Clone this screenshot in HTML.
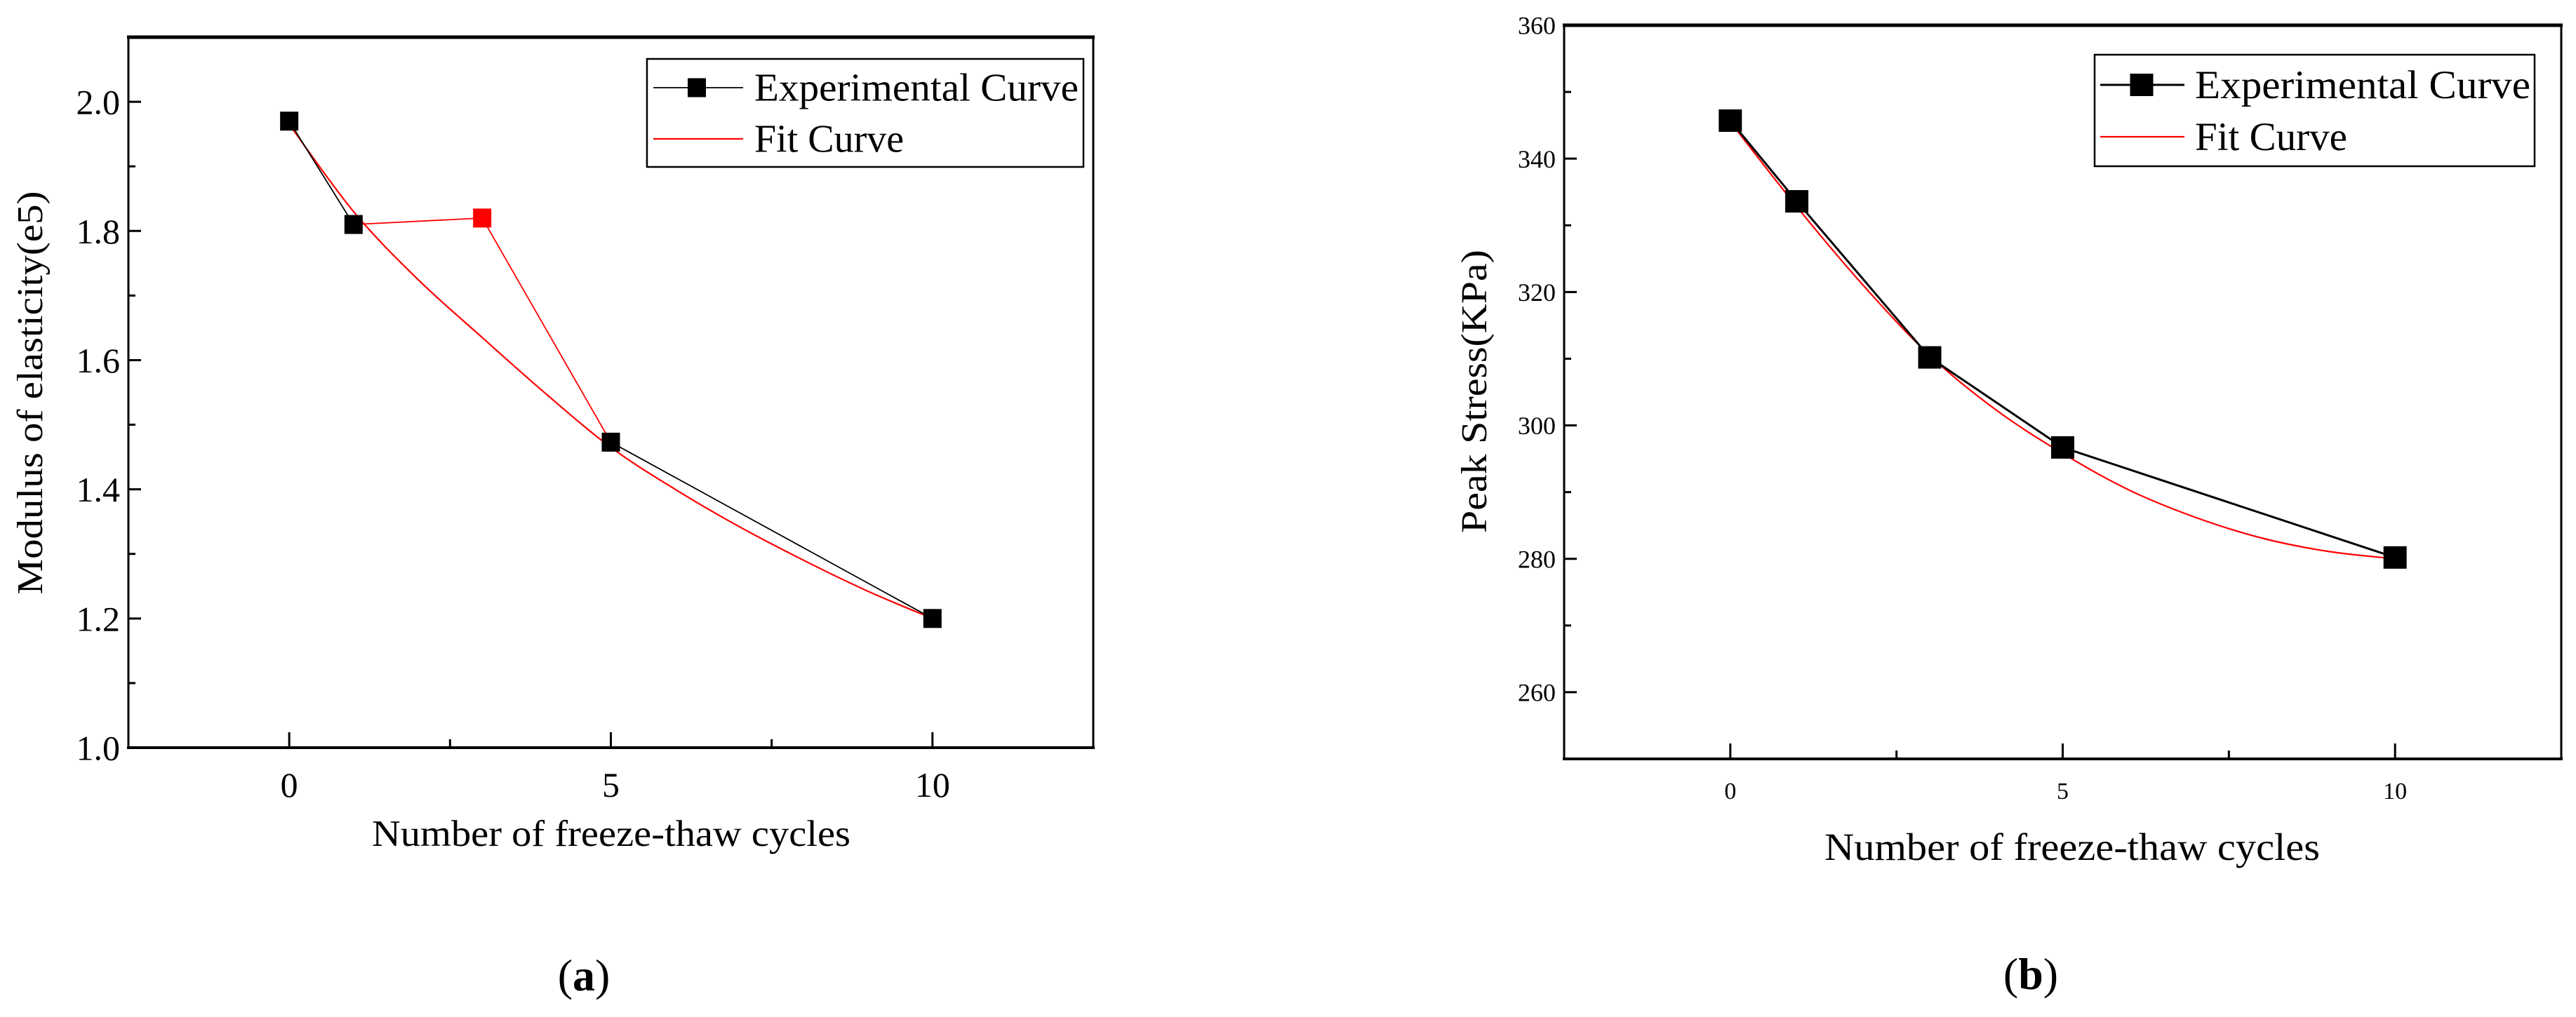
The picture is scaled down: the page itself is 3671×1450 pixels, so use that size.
<!DOCTYPE html>
<html><head><meta charset="utf-8"><style>
html,body{margin:0;padding:0;background:#fff;}
svg{display:block;font-family:"Liberation Serif",serif;}
</style></head><body>
<svg id="fig" width="3671" height="1450" viewBox="0 0 3671 1450" xmlns="http://www.w3.org/2000/svg"></svg>
<script>
// ---- Chart (a) data ----
const aExpX = [0, 1, 3, 5, 10];
const aExpY = [1.97, 1.81, 1.82, 1.473, 1.2];
const aExpColors = ['#000', '#000', '#f00', '#000', '#000'];
const aSegColors = ['#000', '#f00', '#f00', '#000'];
const aFitX = [0, 1, 2, 3, 4, 5, 6, 7, 8, 9, 10];
const aFitY = [1.965, 1.83, 1.725, 1.635, 1.547, 1.465, 1.40, 1.342, 1.29, 1.242, 1.2];
const aYTicks = [1.0, 1.2, 1.4, 1.6, 1.8, 2.0];
const aXTicks = [0, 5, 10];
// ---- Chart (b) data ----
const bExpX = [0, 1, 3, 5, 10];
const bExpY = [345.7, 333.6, 310.2, 296.7, 280.2];
const bFitX = [0, 1, 2, 3, 4, 5, 6, 7, 8, 9, 10];
const bFitY = [345.5, 332.8, 321, 310.5, 302.3, 295.8, 290.3, 286.2, 283.1, 281.1, 280];
const bYTicks = [260, 280, 300, 320, 340, 360];
const bXTicks = [0, 5, 10];

const NS = 'http://www.w3.org/2000/svg';
const svg = document.getElementById('fig');
function mk(tag, attrs, parent) {
  const e = document.createElementNS(NS, tag);
  for (const k in attrs) e.setAttribute(k, attrs[k]);
  (parent || svg).appendChild(e);
  return e;
}
function smoothPath(pts) {
  let d = 'M' + pts[0][0] + ',' + pts[0][1];
  for (let i = 0; i < pts.length - 1; i++) {
    const p0 = pts[Math.max(0, i - 1)], p1 = pts[i], p2 = pts[i + 1], p3 = pts[Math.min(pts.length - 1, i + 2)];
    const c1x = p1[0] + (p2[0] - p0[0]) / 6, c1y = p1[1] + (p2[1] - p0[1]) / 6;
    const c2x = p2[0] - (p3[0] - p1[0]) / 6, c2y = p2[1] - (p3[1] - p1[1]) / 6;
    d += ' C' + c1x + ',' + c1y + ' ' + c2x + ',' + c2y + ' ' + p2[0] + ',' + p2[1];
  }
  return d;
}

function chart(cfg) {
  const g = mk('g', {});
  
  
  const sx = v => cfg.L + (v - cfg.xmin) / (cfg.xmax - cfg.xmin) * (cfg.R - cfg.L);
  const sy = v => cfg.B - (v - cfg.ymin) / (cfg.ymax - cfg.ymin) * (cfg.B - cfg.T);
  const fr = mk('rect', {x: cfg.L, y: cfg.T, width: cfg.R - cfg.L, height: cfg.B - cfg.T, fill: 'none', stroke: '#000', 'stroke-width': 3}, g);
  
  
  mk('line', {x1: cfg.L - 2, x2: cfg.R + 2, y1: cfg.T, y2: cfg.T, stroke: '#000', 'stroke-width': 5}, g);
  mk('line', {x1: cfg.L - 2, x2: cfg.R + 2, y1: cfg.B, y2: cfg.B, stroke: '#000', 'stroke-width': 4}, g);
  cfg.yTicks.forEach((v, i) => {
    const y = sy(v);
    mk('line', {x1: cfg.L, x2: cfg.L + 18, y1: y, y2: y, stroke: '#000', 'stroke-width': 3}, g);
    if (i < cfg.yTicks.length - 1) {
      const ym = sy(v + (cfg.yTicks[1] - cfg.yTicks[0]) / 2);
      mk('line', {x1: cfg.L, x2: cfg.L + 10, y1: ym, y2: ym, stroke: '#000', 'stroke-width': 3}, g);
    }
    const t = mk('text', {x: cfg.L - 12, y: y + cfg.tickFs * 0.35, 'text-anchor': 'end', 'font-size': cfg.tickFs}, g);
    t.textContent = cfg.yFmt(v);
    
    
  });
  cfg.xTicks.forEach((v, i) => {
    const x = sx(v);
    mk('line', {x1: x, x2: x, y1: cfg.B, y2: cfg.B - 22, stroke: '#000', 'stroke-width': 3}, g);
    if (i < cfg.xTicks.length - 1) {
      const xm = sx(v + 2.5);
      mk('line', {x1: xm, x2: xm, y1: cfg.B, y2: cfg.B - 12, stroke: '#000', 'stroke-width': 3}, g);
    }
    const t = mk('text', {x: x, y: cfg.xLabY, 'text-anchor': 'middle', 'font-size': cfg.xTickFs}, g);
    t.textContent = String(v);
    
    
  });
  const fpts = cfg.fitX.map((x, i) => [sx(x), sy(cfg.fitY[i])]);
  const fl = mk('path', {d: smoothPath(fpts), fill: 'none', stroke: '#f00', 'stroke-width': 2.2}, g);
  
  
  for (let i = 0; i < cfg.expX.length - 1; i++) {
    const s = mk('line', {x1: sx(cfg.expX[i]), y1: sy(cfg.expY[i]), x2: sx(cfg.expX[i + 1]), y2: sy(cfg.expY[i + 1]), stroke: cfg.segColors[i], 'stroke-width': cfg.expW}, g);
    
    
  }
  cfg.expX.forEach((x, i) => {
    const m = mk('rect', {x: sx(x) - cfg.mw / 2, y: sy(cfg.expY[i]) - cfg.mh / 2, width: cfg.mw, height: cfg.mh, fill: cfg.mColors[i]}, g);
    
    
  });
  const xt = mk('text', {x: cfg.xTitleX, y: cfg.xTitleY, 'text-anchor': 'middle', 'font-size': cfg.titleFs, textLength: cfg.xTitleLen, lengthAdjust: 'spacingAndGlyphs'}, g);
  xt.textContent = 'Number of freeze-thaw cycles';
  
  
  const yt = mk('text', {x: 0, y: 0, 'text-anchor': 'middle', 'font-size': cfg.yTitleFs, textLength: cfg.yTitleLen, lengthAdjust: 'spacingAndGlyphs', transform: 'translate(' + cfg.yTitleX + ',' + cfg.yTitleY + ') rotate(-90)'}, g);
  yt.textContent = cfg.yTitle;
  
  
  const lg = mk('g', {}, g);
  
  
  const L = cfg.leg;
  mk('rect', {x: L.x1, y: L.y1, width: L.x2 - L.x1, height: L.y2 - L.y1, fill: '#fff', stroke: '#000', 'stroke-width': 2.5}, lg);
  const e1 = mk('g', {}, lg);
  
  
  mk('line', {x1: L.lx1, x2: L.lx2, y1: L.r1, y2: L.r1, stroke: '#000', 'stroke-width': cfg.expW}, e1);
  mk('rect', {x: L.mx - cfg.mw / 2, y: L.r1 - cfg.mh / 2, width: cfg.mw, height: cfg.mh, fill: '#000'}, e1);
  const t1 = mk('text', {x: L.tx, y: L.r1 + L.fs * 0.33, 'font-size': L.fs, textLength: L.tlen, lengthAdjust: 'spacingAndGlyphs'}, e1);
  t1.textContent = 'Experimental Curve';
  const e2 = mk('g', {}, lg);
  
  
  mk('line', {x1: L.lx1, x2: L.lx2, y1: L.r2, y2: L.r2, stroke: '#f00', 'stroke-width': 2.2}, e2);
  const t2 = mk('text', {x: L.tx, y: L.r2 + L.fs * 0.33, 'font-size': L.fs}, e2);
  t2.textContent = 'Fit Curve';
  const pl = mk('text', {x: cfg.panelX, y: cfg.panelY, 'text-anchor': 'middle', 'font-size': 64}, g);
  pl.innerHTML = '(<tspan font-weight="bold">' + cfg.panel + '</tspan>)';
  
  
}

chart({
  name: 'chart-a', L: 183, R: 1558, T: 53, B: 1066, xmin: -2.5, xmax: 12.5, ymin: 1.0, ymax: 2.1,
  yTicks: aYTicks, xTicks: aXTicks, yFmt: v => v.toFixed(1), tickFs: 50, xTickFs: 50, xLabY: 1136,
  expX: aExpX, expY: aExpY, mColors: aExpColors, segColors: aSegColors, fitX: aFitX, fitY: aFitY,
  expW: 1.8, mw: 26, mh: 27,
  titleFs: 53, xTitleX: 871, xTitleY: 1206, xTitleLen: 682,
  yTitle: 'Modulus of elasticity(e5)', yTitleFs: 52, yTitleX: 60, yTitleY: 560, yTitleLen: 575,
  leg: {x1: 922, y1: 84, x2: 1544, y2: 238, r1: 125, r2: 198, lx1: 931, lx2: 1059, mx: 993, tx: 1075, fs: 56, tlen: 462},
  panel: 'a', panelX: 832, panelY: 1412
});
chart({
  name: 'chart-b', L: 2229, R: 3650, T: 36, B: 1082, xmin: -2.5, xmax: 12.5, ymin: 250, ymax: 360,
  yTicks: bYTicks, xTicks: bXTicks, yFmt: v => String(v), tickFs: 36, xTickFs: 34, xLabY: 1139,
  expX: bExpX, expY: bExpY, mColors: ['#000','#000','#000','#000','#000'], segColors: ['#000','#000','#000','#000'], fitX: bFitX, fitY: bFitY,
  expW: 3, mw: 33, mh: 32,
  titleFs: 55, xTitleX: 2953, xTitleY: 1226, xTitleLen: 706,
  yTitle: 'Peak Stress(KPa)', yTitleFs: 52, yTitleX: 2118, yTitleY: 558, yTitleLen: 404,
  leg: {x1: 2985, y1: 78, x2: 3612, y2: 237, r1: 121, r2: 195, lx1: 2993, lx2: 3113, mx: 3052, tx: 3128, fs: 57, tlen: 478},
  panel: 'b', panelX: 2894, panelY: 1410
});
</script>
</body></html>
